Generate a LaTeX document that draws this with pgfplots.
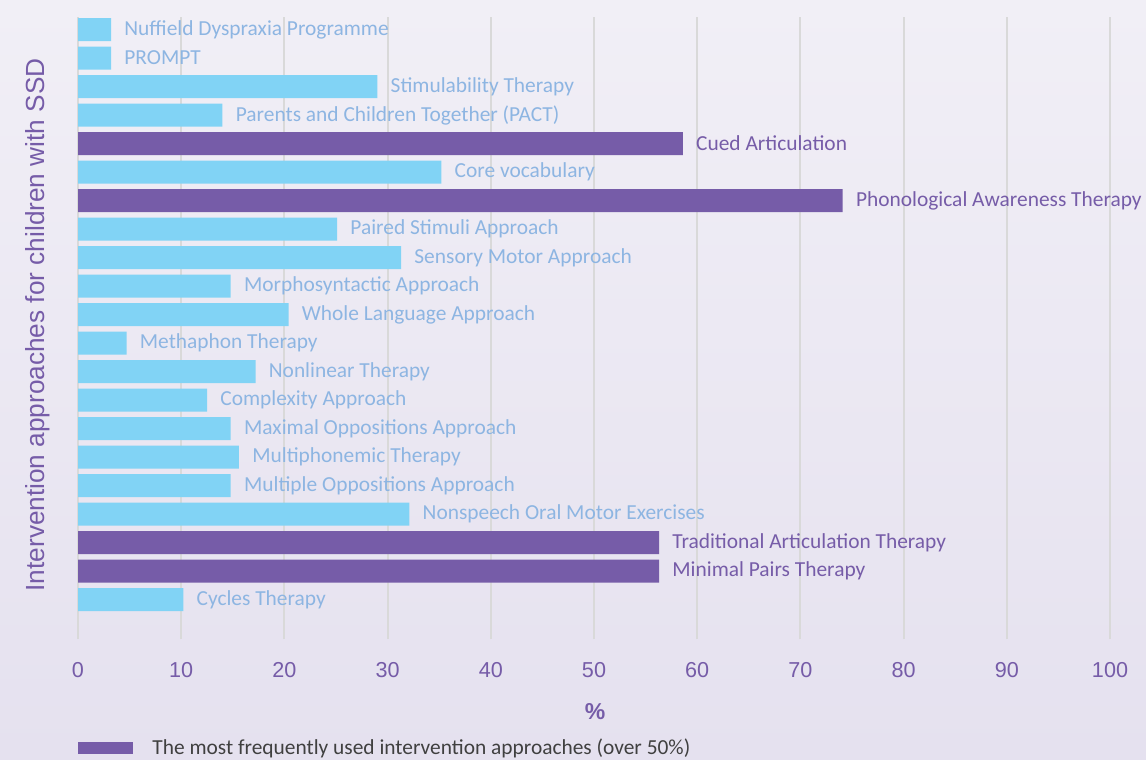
\documentclass[border=0pt]{standalone}
\usepackage{pgfplots}
\pgfplotsset{compat=1.18}
\usepackage{pgfplotstable}
\usepackage{fontspec}
\setmainfont{Carlito}
\newfontfamily\arial{Liberation Sans}
\definecolor{lightbar}{HTML}{81D3F5}
\definecolor{purplebar}{HTML}{765CA8}
\definecolor{lightlab}{HTML}{8DB5E2}
\definecolor{gridc}{HTML}{D9D9D9}
\definecolor{bgtop}{HTML}{F1EFF6}
\definecolor{bgbot}{HTML}{E5E1EF}
\definecolor{legtext}{HTML}{404040}

\pgfplotstableread[col sep=comma]{
i,v,label
21,3.2,Nuffield Dyspraxia Programme
20,3.2,PROMPT
19,29.0,Stimulability Therapy
18,14.0,Parents and Children Together (PACT)
16,35.2,Core vocabulary
14,25.1,Paired Stimuli Approach
13,31.3,Sensory Motor Approach
12,14.8,Morphosyntactic Approach
11,20.4,Whole Language Approach
10,4.7,Methaphon Therapy
9,17.2,Nonlinear Therapy
8,12.5,Complexity Approach
7,14.8,Maximal Oppositions Approach
6,15.6,Multiphonemic Therapy
5,14.8,Multiple Oppositions Approach
4,32.1,Nonspeech Oral Motor Exercises
1,10.2,Cycles Therapy
}\lighttable

\pgfplotstableread[col sep=comma]{
i,v,label
17,58.6,Cued Articulation
15,74.1,Phonological Awareness Therapy
3,56.3,Traditional Articulation Therapy
2,56.3,Minimal Pairs Therapy
}\purpletable

\begin{document}
\begin{tikzpicture}
\shade[top color=bgtop, bottom color=bgbot] (0,0) rectangle (573pt,380pt);
\begin{axis}[
  at={(39pt,60.5pt)}, anchor=south west,
  scale only axis, width=516pt, height=311pt,
  xmin=0, xmax=100, ymin=-0.386, ymax=21.44,
  xtick={0,10,...,100}, ytick=\empty,
  axis line style={draw=none},
  major tick length=0pt,
  xmajorgrids, grid style={gridc, line width=1pt},
  xbar, bar width=11.5pt, bar shift=0pt,
  clip=false,
  /pgf/number format/assume math mode=true,
  xticklabel style={font=\arial\fontsize{10.8}{12}\selectfont, text=purplebar, yshift=-8pt},
  xlabel={\%},
  xlabel style={at={(axis description cs:0.501,-0.117)}, anchor=center, font=\arial\bfseries\fontsize{11.5}{12}\selectfont, text=purplebar},
  ylabel={Intervention approaches for children with SSD},
  ylabel style={at={(axis description cs:-0.0388,0.505)}, anchor=center, font=\arial\fontsize{13.1}{15}\selectfont, text=purplebar},
  legend style={at={(axis description cs:0,-0.175)}, anchor=west, draw=none, fill=none, inner sep=0pt,
    font=\fontsize{10.7}{12}\selectfont, text=legtext, /tikz/every odd column/.append style={column sep=7.5pt}},
  every node near coord/.append style={anchor=west, inner sep=0pt, xshift=6.5pt, font=\fontsize{10.7}{12}\selectfont},
]
\addplot[xbar, bar shift=0pt, draw=none, fill=lightbar, nodes near coords, point meta=explicit symbolic,
  every node near coord/.append style={text=lightlab}, forget plot]
  table[x=v, y=i, meta=label] {\lighttable};
\addplot[xbar, bar shift=0pt, draw=none, fill=purplebar, nodes near coords, point meta=explicit symbolic,
  every node near coord/.append style={text=purplebar},
  legend image code/.code={\fill[purplebar] (0pt,-3pt) rectangle (27.5pt,3pt);}]
  table[x=v, y=i, meta=label] {\purpletable};
\addlegendentry{The most frequently used intervention approaches (over 50\%)}
\end{axis}
\pgfresetboundingbox
\path[use as bounding box] (0,0) rectangle (573pt,380pt);
\end{tikzpicture}
\end{document}
